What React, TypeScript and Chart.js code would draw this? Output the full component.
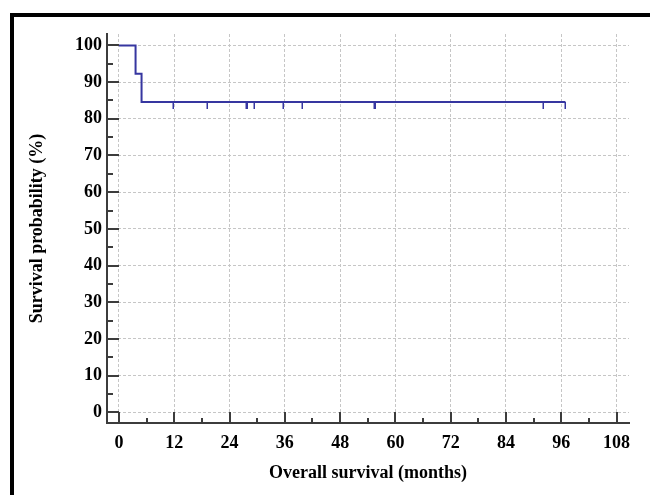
import React, { useEffect, useRef } from 'react';
import { Chart, registerables } from 'chart.js';

Chart.register(...registerables);

// Kaplan-Meier step points (months, survival %)
const kmTimes = [0, 3.6, 4.9, 96.9];
const kmSurvival = [100, 92.3, 84.6, 84.6];
// Censored observations (months)
const censorTimes = [11.7, 19.2, 27.5, 27.8, 29.2, 35.6, 39.8, 55.3, 55.6, 92.0, 96.9];

const xTicks = [0, 12, 24, 36, 48, 60, 72, 84, 96, 108];
const xMinorTicks = [6, 18, 30, 42, 54, 66, 78, 90, 102];
const yTicks = [0, 10, 20, 30, 40, 50, 60, 70, 80, 90, 100];
const yMinorTicks = [5, 15, 25, 35, 45, 55, 65, 75, 85, 95];

const xTitle = 'Overall survival (months)';
const yTitle = 'Survival probability (%)';

const CURVE_COLOR = '#3636a0';
const AXIS_COLOR = '#3c3c3c';
const GRID_COLOR = '#c6c6c6';
const FONT_FAMILY = '"Liberation Serif", "Times New Roman", Times, serif';

function survivalAt(t: number): number {
  let s = kmSurvival[0];
  for (let i = 0; i < kmTimes.length; i++) {
    if (kmTimes[i] <= t) s = kmSurvival[i];
  }
  return s;
}

const decorPlugin = {
  id: 'kmDecor',
  beforeDraw(chart: any) {
    const ctx = chart.ctx;
    ctx.save();
    ctx.fillStyle = '#000';
    ctx.fillRect(10, 13, 640, 4);
    ctx.fillRect(10, 13, 4, 482);
    ctx.restore();
  },
  afterDatasetsDraw(chart: any) {
    const ctx = chart.ctx;
    const xs = chart.scales.x;
    const ys = chart.scales.y;
    ctx.save();
    ctx.strokeStyle = CURVE_COLOR;
    ctx.lineWidth = 1.5;
    censorTimes.forEach((t) => {
      const px = Math.round(xs.getPixelForValue(t)) + 0.25;
      const py = ys.getPixelForValue(survivalAt(t));
      ctx.beginPath();
      ctx.moveTo(px, py);
      ctx.lineTo(px, py + 7);
      ctx.stroke();
    });
    ctx.restore();
  },
  afterDraw(chart: any) {
    const ctx = chart.ctx;
    const xs = chart.scales.x;
    const ys = chart.scales.y;
    const area = chart.chartArea;
    ctx.save();
    ctx.strokeStyle = AXIS_COLOR;
    ctx.lineWidth = 2;
    const bottom = area.bottom;
    const left = area.left;
    const drawX = (v: number, len: number) => {
      const px = Math.round(xs.getPixelForValue(v));
      ctx.beginPath();
      ctx.moveTo(px, bottom);
      ctx.lineTo(px, bottom - len);
      ctx.stroke();
    };
    const drawY = (v: number, len: number) => {
      const py = Math.round(ys.getPixelForValue(v));
      ctx.beginPath();
      ctx.moveTo(left, py);
      ctx.lineTo(left + len, py);
      ctx.stroke();
    };
    xTicks.forEach((v) => drawX(v, 11));
    xMinorTicks.forEach((v) => drawX(v, 5));
    yTicks.forEach((v) => drawY(v, 12));
    yMinorTicks.forEach((v) => drawY(v, 6));
    ctx.restore();
  },
};

export default function App() {
  const canvasRef = useRef<HTMLCanvasElement | null>(null);

  useEffect(() => {
    if (!canvasRef.current) return;
    const font = { family: FONT_FAMILY, size: 18, weight: 'bold' as const };
    const chart = new Chart(canvasRef.current, {
      type: 'line',
      data: {
        datasets: [
          {
            label: 'Survival',
            data: kmTimes.map((t, i) => ({ x: t, y: kmSurvival[i] })),
            stepped: true,
            borderColor: CURVE_COLOR,
            borderWidth: 2,
            pointRadius: 0,
            fill: false,
          },
        ],
      },
      options: {
        animation: false,
        responsive: false,
        devicePixelRatio: 1,
        layout: { padding: { left: 0, top: 34, right: 21, bottom: 0 } },
        plugins: { legend: { display: false }, tooltip: { enabled: false } },
        scales: {
          x: {
            type: 'linear',
            min: -2.6,
            max: 110.7,
            afterBuildTicks: (s: any) => {
              s.ticks = xTicks.map((v) => ({ value: v }));
            },
            afterFit: (s: any) => {
              s.height = 72;
            },
            grid: { color: GRID_COLOR, lineWidth: 1, drawTicks: false },
            border: { color: AXIS_COLOR, width: 2, dash: [3, 2] },
            ticks: {
              font,
              color: '#000',
              padding: 10,
              autoSkip: false,
              maxRotation: 0,
              callback: (v: any) => String(v),
            },
            title: {
              display: true,
              text: xTitle,
              font,
              color: '#000',
              padding: { top: 0, bottom: 10.5 },
            },
          },
          y: {
            type: 'linear',
            min: -2.9,
            max: 103.1,
            afterBuildTicks: (s: any) => {
              s.ticks = yTicks.map((v) => ({ value: v }));
            },
            afterFit: (s: any) => {
              s.width = 107;
            },
            grid: { color: GRID_COLOR, lineWidth: 1, drawTicks: false },
            border: { color: AXIS_COLOR, width: 2, dash: [3, 2] },
            ticks: {
              font,
              color: '#000',
              padding: 5,
              autoSkip: false,
              callback: (v: any) => String(v),
            },
            title: {
              display: true,
              text: yTitle,
              font,
              color: '#000',
              padding: { top: 26.5, bottom: 0 },
            },
          },
        },
      },
      plugins: [decorPlugin],
    });
    return () => chart.destroy();
  }, []);

  return (
    <div style={{ position: 'fixed', left: 0, top: 0, width: 650, height: 495, background: '#fff' }}>
      <canvas ref={canvasRef} width={650} height={495} style={{ width: 650, height: 495, display: 'block' }} />
    </div>
  );
}
